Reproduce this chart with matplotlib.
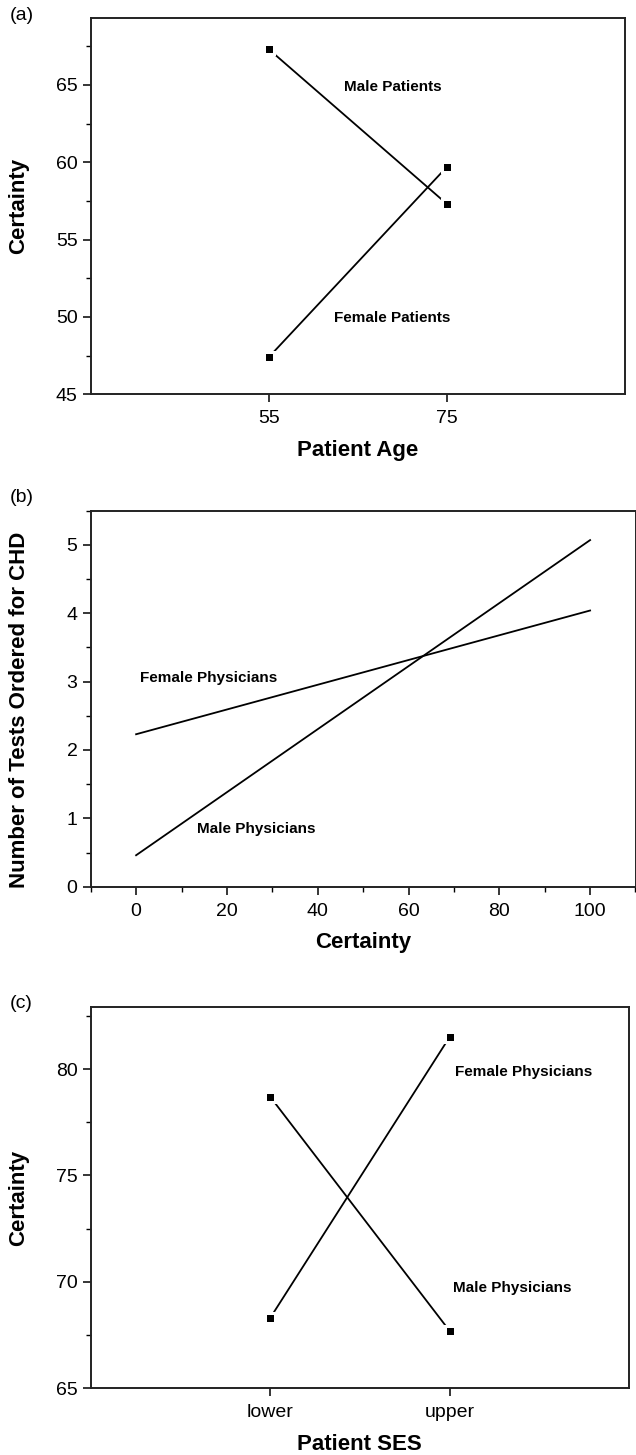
import matplotlib
matplotlib.use("Agg")
import matplotlib.pyplot as plt
from matplotlib.ticker import MultipleLocator

plt.rcParams['font.family'] = ['Liberation Sans', 'DejaVu Sans']

# (a) certainty by patient age
ages = [55, 75]
male_patients = [67.3, 57.3]
female_patients = [47.4, 59.7]

# (b) tests ordered vs certainty
certainty_range = [0, 100]
female_phys_tests = [2.23, 4.04]
male_phys_tests = [0.46, 5.07]

# (c) certainty by patient SES
ses_labels = ["lower", "upper"]
ses_pos = [1, 2]
male_phys_cert = [78.7, 67.7]
female_phys_cert = [68.3, 81.5]

W, H = 636, 1455
fig = plt.figure(figsize=(W / 100, H / 100), dpi=100)


def add_axes(left, right, top, bottom):
    return fig.add_axes([left / W, 1 - bottom / H, (right - left) / W, (bottom - top) / H])


def style(ax, label_x_px, width_px, label_y=0.5):
    for s in ax.spines.values():
        s.set_linewidth(1.4)
        s.set_color("#222222")
    ax.tick_params(axis="both", which="major", length=5.5, width=1.1, labelsize=14, pad=4)
    ax.tick_params(axis="both", which="minor", length=3.5, width=1.0)
    ax.tick_params(axis="x", which="major", pad=6)
    ax.yaxis.set_label_coords((label_x_px - 90.7) / width_px, label_y)


def draw_pair(ax, x, y):
    ax.plot(x, y, color="black", lw=1.3, zorder=2)
    ax.plot(x, y, ls="none", marker="s", ms=6.5, mfc="black", mec="white", mew=2.2, zorder=3)
    ax.plot(x, y, ls="none", marker="s", ms=5, mfc="black", mec="black", mew=0.5, zorder=4)


lab_font = dict(fontsize=16, fontweight="bold")
ann_font = dict(fontsize=11, fontweight="bold", ha="center", va="center")

# panel (a)
ax = add_axes(90.7, 625, 18.3, 394.3)
draw_pair(ax, ages, male_patients)
draw_pair(ax, ages, female_patients)
ax.set_xlim(35, 95)
ax.set_ylim(45, 69.3)
ax.set_xticks(ages)
ax.yaxis.set_major_locator(MultipleLocator(5))
ax.yaxis.set_minor_locator(MultipleLocator(2.5))
ax.set_xlabel("Patient Age", labelpad=9, **lab_font)
ax.set_ylabel("Certainty", **lab_font)
ax.text(68.9, 64.85, "Male Patients", **ann_font)
ax.text(68.9, 49.9, "Female Patients", **ann_font)
style(ax, 29, 625 - 90.7)
fig.text(10 / W, 1 - 16 / H, "(a)", fontsize=14, ha="left", va="center")

# panel (b)
ax = add_axes(90.7, 635.5, 510.7, 886.7)
ax.plot(certainty_range, female_phys_tests, color="black", lw=1.3)
ax.plot(certainty_range, male_phys_tests, color="black", lw=1.3)
ax.set_xlim(-10, 110)
ax.set_ylim(0, 5.5)
ax.xaxis.set_major_locator(MultipleLocator(20))
ax.xaxis.set_minor_locator(MultipleLocator(10))
ax.yaxis.set_major_locator(MultipleLocator(1))
ax.yaxis.set_minor_locator(MultipleLocator(0.5))
ax.set_xlabel("Certainty", labelpad=9, **lab_font)
ax.set_ylabel("Number of Tests Ordered for CHD", **lab_font)
ax.text(16.0, 3.06, "Female Physicians", **ann_font)
ax.text(26.5, 0.85, "Male Physicians", **ann_font)
style(ax, 30, 635.5 - 90.7, label_y=0.47)
fig.text(10 / W, 1 - 497 / H, "(b)", fontsize=14, ha="left", va="center")

# panel (c)
ax = add_axes(90.7, 629, 1007.3, 1388.3)
draw_pair(ax, ses_pos, male_phys_cert)
draw_pair(ax, ses_pos, female_phys_cert)
ax.set_xlim(0, 3)
ax.set_ylim(65, 82.9)
ax.set_xticks(ses_pos)
ax.set_xticklabels(ses_labels)
ax.yaxis.set_major_locator(MultipleLocator(5))
ax.yaxis.set_minor_locator(MultipleLocator(2.5))
ax.set_xlabel("Patient SES", labelpad=9, **lab_font)
ax.set_ylabel("Certainty", **lab_font)
ax.text(2.41, 79.84, "Female Physicians", **ann_font)
ax.text(2.35, 69.73, "Male Physicians", **ann_font)
style(ax, 29, 629 - 90.7)
fig.text(10 / W, 1 - 1003 / H, "(c)", fontsize=14, ha="left", va="center")

fig.savefig("out.png", dpi=100)
